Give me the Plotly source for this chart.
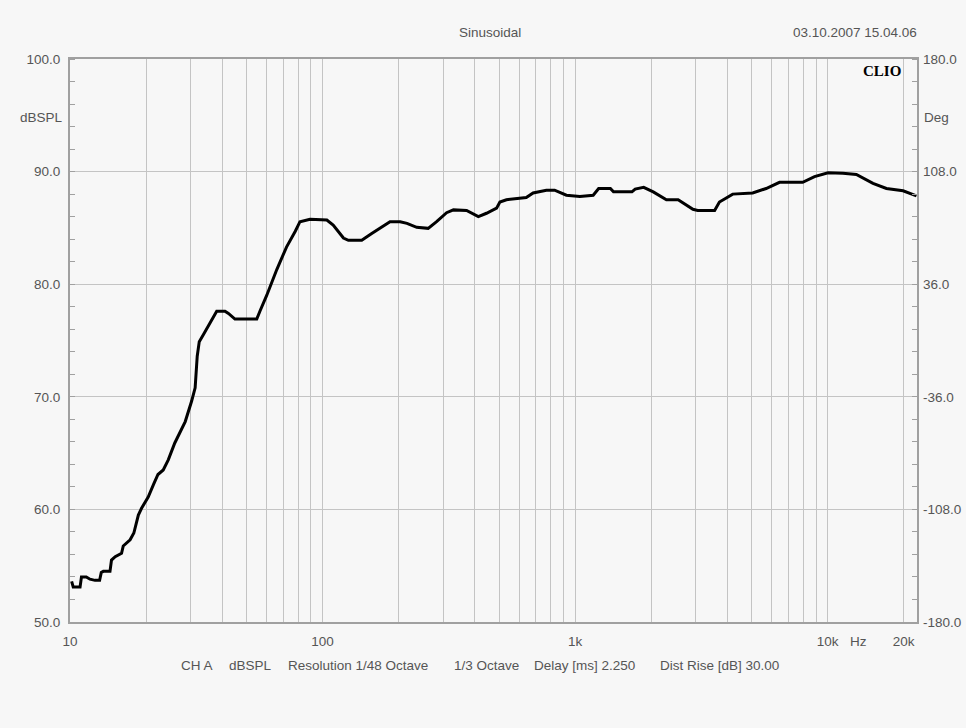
import plotly.graph_objects as go
import math

# ---- data ----
freq_hz = [10.15, 10.3, 10.96, 11.1, 11.6, 12.0, 12.56, 13.1, 13.3, 13.55, 14.4, 14.6, 15.1, 16.0, 16.25,
           17.3, 17.9, 18.65, 19.2, 20.4, 21.4, 22.3, 23.4, 24.5, 26.0, 28.6, 30.3, 31.3, 31.9,
           32.5, 33.9, 35.8, 38.1, 41.1, 42.4, 45.0, 50.0, 54.9, 56.5, 60.1, 65.9, 72.0, 78.0,
           81.4, 89.2, 104, 110.2, 121, 126.6, 143, 156.6, 169, 185, 203, 216, 236, 262, 283,
           310, 330, 372, 414, 446, 489, 504, 535, 641, 682, 770, 830, 924, 1045, 1180, 1240,
           1380, 1420, 1680, 1730, 1870, 2040, 2300, 2560, 2930, 3060, 3570, 3730, 4210, 5050,
           5710, 6450, 7970, 8880, 10040, 11500, 13000, 15130, 17100, 19900, 22500]
spl_db = [53.6, 53.1, 53.1, 54.0, 54.0, 53.8, 53.7, 53.7, 54.4, 54.5, 54.5, 55.5, 55.8, 56.1, 56.75,
          57.3, 57.9, 59.5, 60.1, 61.1, 62.2, 63.1, 63.5, 64.4, 65.9, 67.8, 69.6, 70.8, 73.6,
          74.9, 75.6, 76.5, 77.6, 77.6, 77.4, 76.9, 76.9, 76.9, 77.6, 79.0, 81.3, 83.3, 84.7,
          85.55, 85.76, 85.7, 85.25, 84.1, 83.9, 83.9, 84.5, 85.0, 85.55, 85.55, 85.4, 85.05, 84.96, 85.55,
          86.35, 86.6, 86.55, 86.0, 86.3, 86.75, 87.3, 87.5, 87.7, 88.1, 88.35, 88.35, 87.9, 87.8, 87.9, 88.5,
          88.5, 88.2, 88.2, 88.45, 88.6, 88.2, 87.5, 87.5, 86.65, 86.55, 86.55, 87.3, 88.0, 88.1,
          88.5, 89.05, 89.05, 89.55, 89.9, 89.85, 89.75, 88.95, 88.5, 88.3, 87.85]

grid_freqs = [10, 20, 30, 40, 50, 60, 70, 80, 90,
              100, 200, 300, 400, 500, 600, 700, 800, 900,
              1000, 2000, 3000, 4000, 5000, 6000, 7000, 8000, 9000,
              10000, 20000]
x_labels = {10: "10", 100: "100", 1000: "1k", 10000: "10k", 20000: "20k"}
y_left_ticks = [50, 60, 70, 80, 90, 100]
y_right_ticks = [-180, -108, -36, 36, 108, 180]

title_text = "Sinusoidal"
date_text = "03.10.2007 15.04.06"
footer_parts = ["CH A", "dBSPL", "Resolution 1/48 Octave", "1/3 Octave",
                "Delay [ms] 2.250", "Dist Rise [dB] 30.00"]
footer_starts_px = [180, 228, 287, 453, 533, 659]

FONT = "Liberation Sans, Arial, sans-serif"
FS = 13.5
TXT = "#555555"
BG = "#f7f7f7"
GRID = "#c4c4c4"
BORDER = "#a0a0a0"

# plot-area pixel geometry in the window
PL, PR, PT, PB = 70, 917, 59, 622
W, H = 966, 728
PW, PH = PR - PL, PB - PT


def px_x(px):
    return (px - PL) / PW


def px_y(py):
    return (PB - py) / PH


fig = go.Figure()
fig.add_trace(go.Scatter(x=freq_hz, y=spl_db, mode="lines",
                         line=dict(color="black", width=3), showlegend=False,
                         hoverinfo="skip"))
fig.add_trace(go.Scatter(x=[None], y=[None], yaxis="y2", mode="lines",
                         showlegend=False, hoverinfo="skip"))

annotations = [
    dict(text=title_text, x=px_x(490), y=px_y(32), xanchor="center"),
    dict(text=date_text, x=px_x(919), y=px_y(32), xanchor="right"),
    dict(text="<b>CLIO</b>", x=px_x(903), y=px_y(71), xanchor="right",
         font=dict(size=15, color="black", family="Liberation Serif, Times New Roman, serif")),
    dict(text="dBSPL", x=px_x(65), y=px_y(117), xanchor="right"),
    dict(text="Deg", x=px_x(922), y=px_y(117), xanchor="left"),
    dict(text="Hz", x=px_x(858), y=px_y(641), xanchor="center"),
]
for part, sx in zip(footer_parts, footer_starts_px):
    annotations.append(dict(text=part, x=px_x(sx - 1), y=px_y(665), xanchor="left"))

for a in annotations:
    a.update(xref="paper", yref="paper", showarrow=False, yanchor="middle")
    a.setdefault("font", dict(size=FS, color=TXT))

fig.update_layout(
    width=W, height=H,
    paper_bgcolor=BG, plot_bgcolor=BG,
    margin=dict(l=PL, r=W - PR, t=PT, b=H - PB, pad=0, autoexpand=False),
    font=dict(family=FONT, size=FS, color=TXT),
    xaxis=dict(type="log", range=[1, math.log10(22600)],
               tickvals=grid_freqs,
               ticktext=[x_labels.get(f, "") for f in grid_freqs],
               showgrid=True, gridcolor=GRID, gridwidth=1,
               showline=True, linecolor=BORDER, linewidth=2, mirror=True,
               ticks="", zeroline=False, ticklabelstandoff=6, automargin=False,
               tickfont=dict(size=FS, color=TXT)),
    yaxis=dict(range=[50, 100], tickvals=y_left_ticks,
               ticktext=[f"{v:.1f}" for v in y_left_ticks],
               showgrid=True, gridcolor=GRID, gridwidth=1,
               showline=True, linecolor=BORDER, linewidth=2, mirror=True,
               ticks="", zeroline=False, ticklabelstandoff=5, automargin=False,
               minor=dict(dtick=2, ticks="inside", ticklen=5, tickcolor=BORDER, showgrid=False),
               tickfont=dict(size=FS, color=TXT)),
    yaxis2=dict(range=[-180, 180], overlaying="y", side="right",
                tickvals=y_right_ticks,
                ticktext=[f"{v:.1f}" for v in y_right_ticks],
                showgrid=False, zeroline=False, ticks="", ticklabelstandoff=5,
                automargin=False,
                minor=dict(dtick=14.4, tick0=-180, ticks="inside", ticklen=5,
                           tickcolor=BORDER, showgrid=False),
                tickfont=dict(size=FS, color=TXT)),
    annotations=annotations,
)

fig.write_html("out.html",
               config={"displayModeBar": False},
               post_script="document.body.style.margin='0';"
                           "document.body.style.background='#f7f7f7';")
